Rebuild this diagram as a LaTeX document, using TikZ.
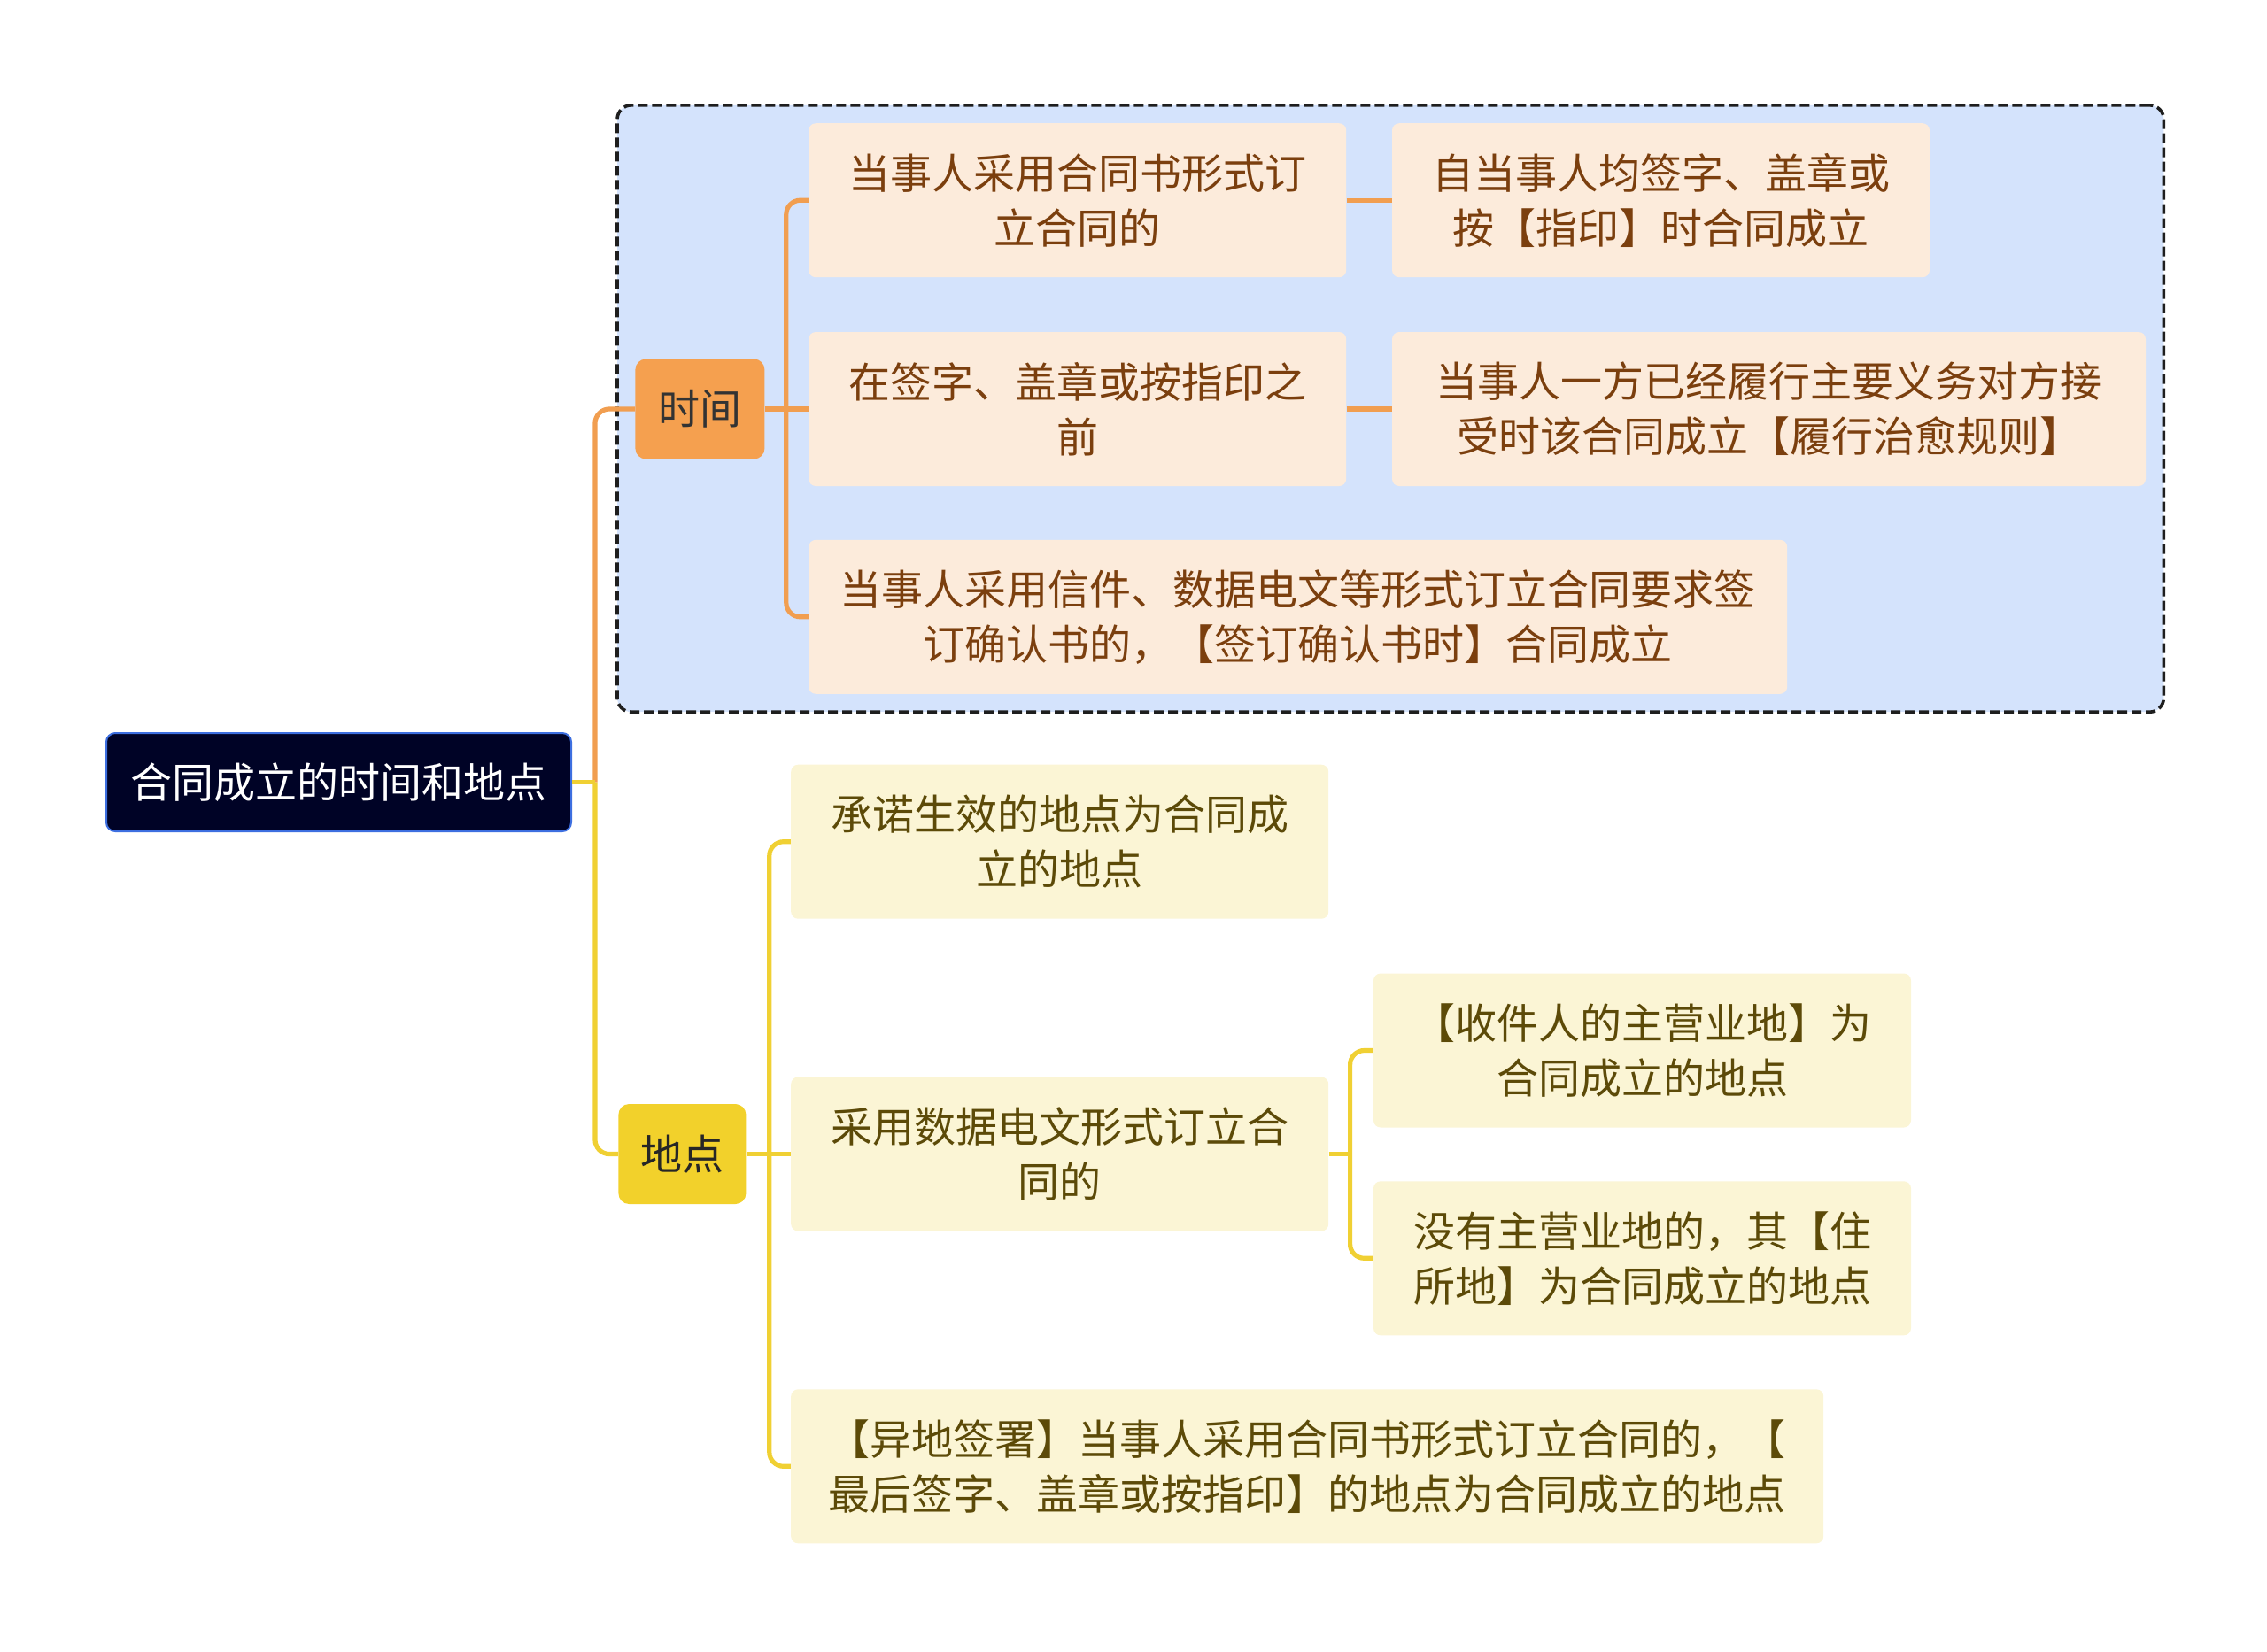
\documentclass[tikz,border=0pt]{standalone}
\usepackage{fontspec}
\setmainfont{Noto Sans CJK SC}
\usepackage{xcolor}
\usetikzlibrary{positioning,fit,backgrounds}
\definecolor{navy}{HTML}{000326}
\definecolor{navyrim}{HTML}{3D6FE0}
\definecolor{grpfill}{HTML}{D4E3FC}
\definecolor{grprim}{HTML}{1E1E1E}
\definecolor{orangeln}{HTML}{F19E50}
\definecolor{orangekey}{HTML}{F5A04F}
\definecolor{tfill}{HTML}{FCEBDB}
\definecolor{ttext}{HTML}{7B3F0E}
\definecolor{yellowln}{HTML}{F0D033}
\definecolor{yellowkey}{HTML}{F2D12B}
\definecolor{pfill}{HTML}{FBF5D5}
\definecolor{ptext}{HTML}{5C4A08}

\begin{document}
\begin{tikzpicture}[node distance=30pt and 25pt,
  every node/.style={font=\fontsize{23.5}{31}\selectfont},
  box/.style={rounded corners=4pt, align=center, inner sep=0pt, minimum width=303.5pt, minimum height=87pt},
  tbox/.style={box, fill=tfill, text=ttext},
  pbox/.style={box, fill=pfill, text=ptext},
  key/.style={rounded corners=6pt, inner sep=0pt, minimum height=56.5pt},
  rootbox/.style={draw=navyrim, line width=1pt, fill=navy, text=white, rounded corners=5pt, inner sep=0pt, minimum width=262.5pt, minimum height=55.5pt},
  grp/.style={draw=grprim, dash pattern=on 5.5pt off 2.5pt, line width=1.8pt, fill=grpfill, rounded corners=8pt, inner sep=10pt},
  oline/.style={draw=orangeln, line width=2.6pt, rounded corners=8pt},
  yline/.style={draw=yellowln, line width=2.6pt, rounded corners=8pt}]
  \useasboundingbox (0,0) rectangle (1280pt,-932.5pt);
  \node[rootbox] (main) at (191.25pt,-441.75pt) {合同成立的时间和地点};
  % time branch
  \node[key, fill=orangekey, text=black!80, minimum width=73pt, right=35.5pt of main, yshift=210.75pt] (time) {时间};
  \node[tbox, right=24.5pt of time] (sign) {在签字、盖章或按指印之\\前};
  \node[tbox, above=30.5pt of sign] (book) {当事人采用合同书形式订\\立合同的};
  \node[tbox, below=30pt of sign.south west, anchor=north west, minimum width=552.5pt] (letter) {当事人采用信件、数据电文等形式订立合同要求签\\订确认书的，【签订确认书时】合同成立};
  \node[tbox, right=25.5pt of book] (seal) {自当事人均签字、盖章或\\按【指印】时合同成立};
  \node[tbox, right=25.5pt of sign, minimum width=425.5pt] (perf) {当事人一方已经履行主要义务对方接\\受时该合同成立【履行治愈规则】};
  \begin{scope}[on background layer]
    \node[grp, fit=(time)(book)(perf)(letter)] (tgrp) {};
  \end{scope}
  % place branch
  \node[key, fill=yellowkey, text=black!85, minimum width=72pt, right=26pt of main, yshift=-210pt] (place) {地点};
  \node[pbox, right=25pt of place] (data) {采用数据电文形式订立合\\同的};
  \node[pbox, above=89pt of data] (accept) {承诺生效的地点为合同成\\立的地点};
  \node[pbox, below=89pt of data.south west, anchor=north west, minimum width=583pt] (remote) {【异地签署】当事人采用合同书形式订立合同的，【\\最后签字、盖章或按指印】的地点为合同成立的地点};
  \node[pbox, right=25pt of data, yshift=58.5pt] (biz) {【收件人的主营业地】为\\合同成立的地点};
  \node[pbox, below=30pt of biz] (home) {没有主营业地的，其【住\\所地】为合同成立的地点};
  % connectors
  \coordinate[right=13pt of main.east] (mj);
  \coordinate[right=12pt of time.east] (tj);
  \coordinate[right=13pt of place.east] (pj);
  \coordinate[right=12pt of data.east] (dj);
  \draw[oline] (mj) |- (time.west);
  \draw[yline] (mj) |- (place.west);
  \draw[yline] (main.east) -- (mj);
  \draw[oline] (time.east) -- (sign.west);
  \draw[oline] (tj) |- (book.west);
  \draw[oline] (tj) |- (letter.west);
  \draw[oline] (book.east) -- (seal.west);
  \draw[oline] (sign.east) -- (perf.west);
  \draw[yline] (place.east) -- (data.west);
  \draw[yline] (pj) |- (accept.west);
  \draw[yline] (pj) |- (remote.west);
  \draw[yline] (data.east) -- (dj);
  \draw[yline] (dj) |- (biz.west);
  \draw[yline] (dj) |- (home.west);
\end{tikzpicture}
\end{document}
